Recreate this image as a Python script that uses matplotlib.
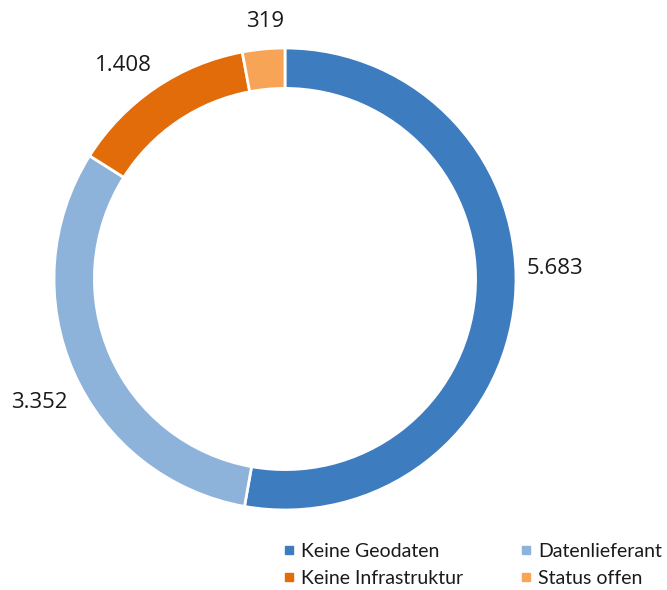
import numpy as np
import matplotlib.pyplot as plt
from matplotlib.lines import Line2D

categories = ['Keine Geodaten', 'Datenlieferant', 'Keine Infrastruktur', 'Status offen']
values = [5683, 3352, 1408, 319]
value_labels = ['5.683', '3.352', '1.408', '319']
colors = ['#3E7CC0', '#8EB3DB', '#E36C0A', '#F8A456']

plt.rcParams['font.family'] = ['Open Sans', 'DejaVu Sans']

fig = plt.figure(figsize=(6.67, 5.9), dpi=100)
ax = fig.add_axes([54 / 667, 80 / 590, 462 / 667, 462 / 590])

wedges, _ = ax.pie(values, colors=colors, startangle=90, counterclock=False,
                   radius=1.0, wedgeprops=dict(width=0.175, edgecolor='white', linewidth=2))
ax.set_xlim(-1, 1)
ax.set_ylim(-1, 1)
ax.set_aspect('equal')
ax.axis('off')

# value labels outside the ring (small angular nudges like Excel's placement)
label_dist = [1.17, 1.19, 1.16, 1.12]
label_shift = [7.3, 2.9, 3.0, -0.9]
for w, lab, d, s in zip(wedges, value_labels, label_dist, label_shift):
    ang = np.deg2rad((w.theta1 + w.theta2) / 2 + s)
    ax.text(d * np.cos(ang), d * np.sin(ang), lab, ha='center', va='center',
            fontsize=16, color='#1a1a1a', clip_on=False)

handles = [Line2D([], [], marker='s', linestyle='', color=c, markersize=6) for c in colors]

# two legend columns, placed separately to match Excel's layout
leg_kw = dict(frameon=False, prop={'family': ['Lato', 'DejaVu Sans'], 'size': 14},
              handlelength=0.7, handletextpad=0.3,
              labelspacing=0.5, borderpad=0, borderaxespad=0, labelcolor='#1a1a1a',
              loc='center left')
fig.legend([handles[0], handles[2]], [categories[0], categories[2]],
           bbox_to_anchor=(282 / 667, 25 / 590), **leg_kw)
fig.legend([handles[1], handles[3]], [categories[1], categories[3]],
           bbox_to_anchor=(519 / 667, 25 / 590), **leg_kw)

fig.savefig('out.png', dpi=100)
